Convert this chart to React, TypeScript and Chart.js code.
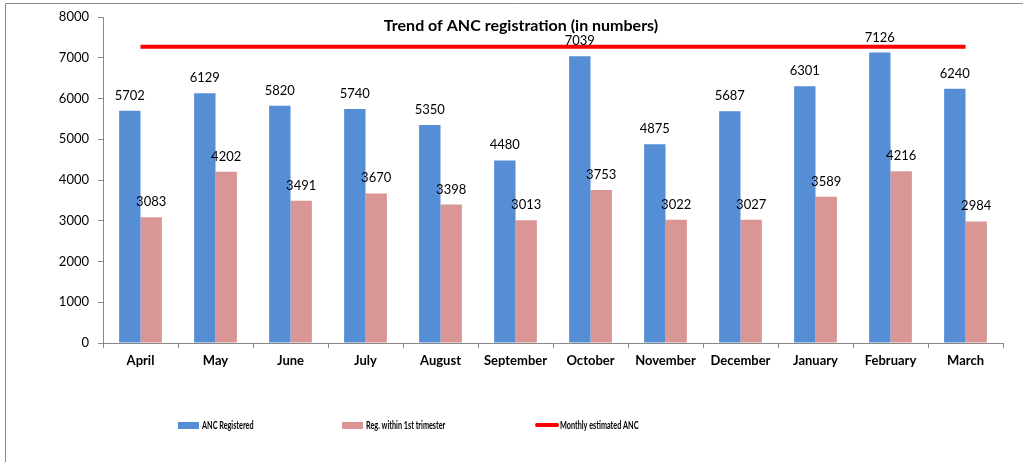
import React, { useEffect, useRef } from 'react';
import { Chart, registerables } from 'chart.js';
Chart.register(...registerables);

const categories = ['April', 'May', 'June', 'July', 'August', 'September', 'October', 'November', 'December', 'January', 'February', 'March'];
const ancRegistered = [5702, 6129, 5820, 5740, 5350, 4480, 7039, 4875, 5687, 6301, 7126, 6240];
const firstTrimester = [3083, 4202, 3491, 3670, 3398, 3013, 3753, 3022, 3027, 3589, 4216, 2984];
const monthlyEstimated = [7270, 7270, 7270, 7270, 7270, 7270, 7270, 7270, 7270, 7270, 7270, 7270];
const yTicks = [0, 1000, 2000, 3000, 4000, 5000, 6000, 7000, 8000];
const chartTitle = 'Trend of ANC registration (in numbers)';

const FONT = 'Lato';
const BLUE = '#558ED5';
const PINK = '#D99694';
const RED = '#FF0000';
const AXIS = '#888888';

const framePlugin = {
  id: 'frame',
  beforeDraw(chart: any) {
    const ctx = chart.ctx;
    ctx.save();
    ctx.strokeStyle = '#8a8a8a';
    ctx.lineWidth = 1;
    ctx.beginPath();
    ctx.moveTo(5.5, 462);
    ctx.lineTo(5.5, 3.5);
    ctx.lineTo(1023, 3.5);
    ctx.stroke();
    ctx.restore();
  },
};

const labelsPlugin = {
  id: 'valueLabels',
  afterDatasetsDraw(chart: any) {
    const ctx = chart.ctx;
    ctx.save();
    ctx.font = `13px ${FONT}`;
    ctx.fillStyle = '#000';
    ctx.textAlign = 'center';
    ctx.textBaseline = 'alphabetic';
    chart.data.datasets.forEach((ds: any, i: number) => {
      if (ds.type === 'line') return;
      const meta = chart.getDatasetMeta(i);
      meta.data.forEach((el: any, j: number) => {
        ctx.fillText(String(ds.data[j]), el.x, el.y - 11);
      });
    });
    ctx.restore();
  },
  afterDraw(chart: any) {
    const ctx = chart.ctx;
    ctx.save();
    ctx.fillStyle = '#000';
    ctx.font = `bold 16px ${FONT}`;
    ctx.textAlign = 'center';
    ctx.textBaseline = 'alphabetic';
    ctx.fillText(chartTitle, 521, 31);

    // legend
    ctx.font = `bold 11px ${FONT}`;
    ctx.textAlign = 'left';
    const items = [
      { x: 178, ds: chart.data.datasets[1] },
      { x: 342, ds: chart.data.datasets[2] },
      { x: 536, ds: chart.data.datasets[0] },
    ];
    items.forEach((it) => {
      if (it.ds.type === 'line') {
        ctx.strokeStyle = it.ds.borderColor;
        ctx.lineWidth = 4;
        ctx.lineCap = 'round';
        ctx.beginPath();
        ctx.moveTo(it.x + 1, 425);
        ctx.lineTo(it.x + 21, 425);
        ctx.stroke();
      } else {
        ctx.fillStyle = it.ds.backgroundColor;
        ctx.fillRect(it.x, 422, 21, 7);
      }
      ctx.fillStyle = '#000';
      ctx.save();
      ctx.translate(it.x + 24, 429);
      ctx.scale(0.66, 1);
      ctx.fillText(it.ds.label, 0, 0);
      ctx.restore();
    });
    ctx.restore();
  },
};

export default function App() {
  const ref = useRef<HTMLCanvasElement>(null);
  useEffect(() => {
    document.body.style.margin = '0';
    const chart = new Chart(ref.current!, {
      type: 'bar',
      data: {
        labels: categories,
        datasets: [
          {
            type: 'line',
            label: 'Monthly estimated ANC',
            data: monthlyEstimated,
            borderColor: RED,
            backgroundColor: RED,
            borderWidth: 4,
            pointRadius: 0,
            order: 0,
          } as any,
          {
            label: 'ANC Registered',
            data: ancRegistered,
            backgroundColor: BLUE,
            categoryPercentage: 0.57,
            barPercentage: 1,
            order: 1,
          },
          {
            label: 'Reg. within 1st trimester',
            data: firstTrimester,
            backgroundColor: PINK,
            categoryPercentage: 0.57,
            barPercentage: 1,
            order: 1,
          },
        ],
      },
      options: {
        responsive: false,
        animation: false,
        layout: { padding: { top: 17, right: 20, left: 0, bottom: 0 } },
        plugins: {
          legend: { display: false },
          title: { display: false },
          tooltip: { enabled: false },
        },
        scales: {
          x: {
            grid: { display: true, drawOnChartArea: false, tickLength: 5, color: AXIS, offset: true },
            border: { color: AXIS },
            ticks: { font: { family: FONT, size: 13, weight: 'bold' }, color: '#000', padding: 5, maxRotation: 0 },
            afterFit: (s: any) => { s.height = 119; },
          },
          y: {
            min: 0,
            max: 8000,
            afterBuildTicks: (s: any) => { s.ticks = yTicks.map((v) => ({ value: v })); },
            grid: { display: true, drawOnChartArea: false, tickLength: 5, color: AXIS },
            border: { color: AXIS },
            ticks: { font: { family: FONT, size: 13 }, color: '#000', padding: 9, callback: (v: any) => String(v) },
            afterFit: (s: any) => { s.width = 103; },
          },
        },
      },
      plugins: [framePlugin, labelsPlugin],
    });
    return () => chart.destroy();
  }, []);
  return (
    <div style={{ position: 'absolute', left: 0, top: 0, width: 1023, height: 462 }}>
      <canvas ref={ref} width={1023} height={462} />
    </div>
  );
}
